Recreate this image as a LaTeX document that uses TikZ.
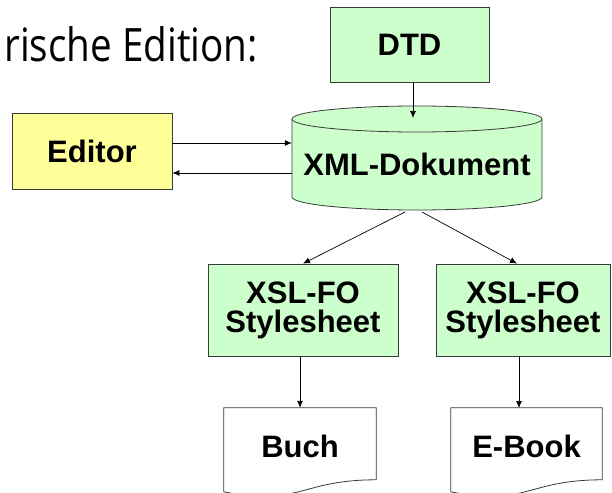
\documentclass[tikz,border=0pt]{standalone}
\usepackage{fontspec}
\setmainfont{Liberation Sans}
\newfontfamily\titlefont{Open Sans}
\usetikzlibrary{arrows.meta}
\definecolor{boxgreen}{HTML}{CCFFCC}
\definecolor{boxyellow}{HTML}{FFFF99}
\definecolor{rim}{HTML}{3A3A3A}
\begin{document}
\begin{tikzpicture}[x=1pt, y=-1pt,
		box/.style = {draw = rim, line width = .8pt, fill = boxgreen, inner sep = 0pt,
			font = \fontsize{31}{29}\selectfont\bfseries, align = center},
		docbox/.style = {inner sep = 0pt, font = \fontsize{31}{29}\selectfont\bfseries},
		docline/.style = {draw = rim, line width = .8pt},
		arr/.style = {-{Latex[length=7pt, width=6pt]}, line width = .7pt}]
		\useasboundingbox (0,0) rectangle (612,492);
		
		\node [anchor = base east, inner sep = 0pt, font = \titlefont\fontsize{46}{46}\selectfont] (title) at (258,62) {\scalebox{.84}[1]{rische Edition:}};
		
		% nodes
		\node [box, minimum width = 159pt, minimum height = 75pt] (dtd) at (409.5,44.5) {DTD};
		\node [box, fill = boxyellow, minimum width = 160pt, minimum height = 76pt] (editor) at (92,151) {Editor};
		\node [docbox, minimum width = 250pt, minimum height = 104pt] (xml) at (417,158) {};
		\node [box, minimum width = 190pt, minimum height = 92pt] (xslA) at (303,310) {XSL-FO\\Stylesheet};
		\node [box, minimum width = 174pt, minimum height = 92pt] (xslB) at (523,310) {XSL-FO\\Stylesheet};
		\node [docbox, minimum width = 152pt, minimum height = 76pt] (buch) at (300,446) {};
		\node [docbox, minimum width = 151pt, minimum height = 76pt] (ebook) at (526.5,446) {};
		
		% cylinder
		\fill [boxgreen] (292,119) rectangle (542,197);
		\fill [boxgreen] (417,197) ellipse [x radius = 125, y radius = 13];
		\draw [docline] (292,119) -- (292,197) arc [start angle = 180, end angle = 0, x radius = 125, y radius = 13] -- (542,119);
		\draw [docline, fill = boxgreen] (417,119) ellipse [x radius = 125, y radius = 13];
		\node [docbox] at (417,164) {XML-Dokument};
		
		% documents
		\draw [docline, fill = white] (buch.north west) -- (buch.north east) -- ([yshift=-72pt]buch.north east)
			.. controls ([yshift=-72pt]buch.north) and ([yshift=-99pt]buch.north) .. ([yshift=-84pt]buch.north west) -- cycle;
		\draw [docline, fill = white] (ebook.north west) -- (ebook.north east) -- ([yshift=-72pt]ebook.north east)
			.. controls ([yshift=-72pt]ebook.north) and ([yshift=-99pt]ebook.north) .. ([yshift=-84pt]ebook.north west) -- cycle;
		\node [docbox] at (buch) {Buch};
		\node [docbox] at (ebook) {E-Book};
		
		% connectors
		\coordinate (xmltop) at (413,118);
		\coordinate (xmloutA) at (405,212);
		\coordinate (xmloutB) at (422,212);
		\coordinate (ebookin) at (519,408);
		\draw [arr] (dtd.south -| xmltop) -- (xmltop);
		\draw [arr] ([yshift=8pt]editor.east) -- ([yshift=8pt]editor.east -| xml.west);
		\draw [arr] ([yshift=-22pt]editor.east -| xml.west) -- ([yshift=-22pt]editor.east);
		\draw [arr] (xmloutA) -- (xslA.north);
		\draw [arr] (xmloutB) -- ([xshift=-6pt]xslB.north);
		\draw [arr] (xslA.south -| buch.north) -- (buch.north);
		\draw [arr] (xslB.south -| ebookin) -- (ebookin);
		
\end{tikzpicture}
\end{document}
